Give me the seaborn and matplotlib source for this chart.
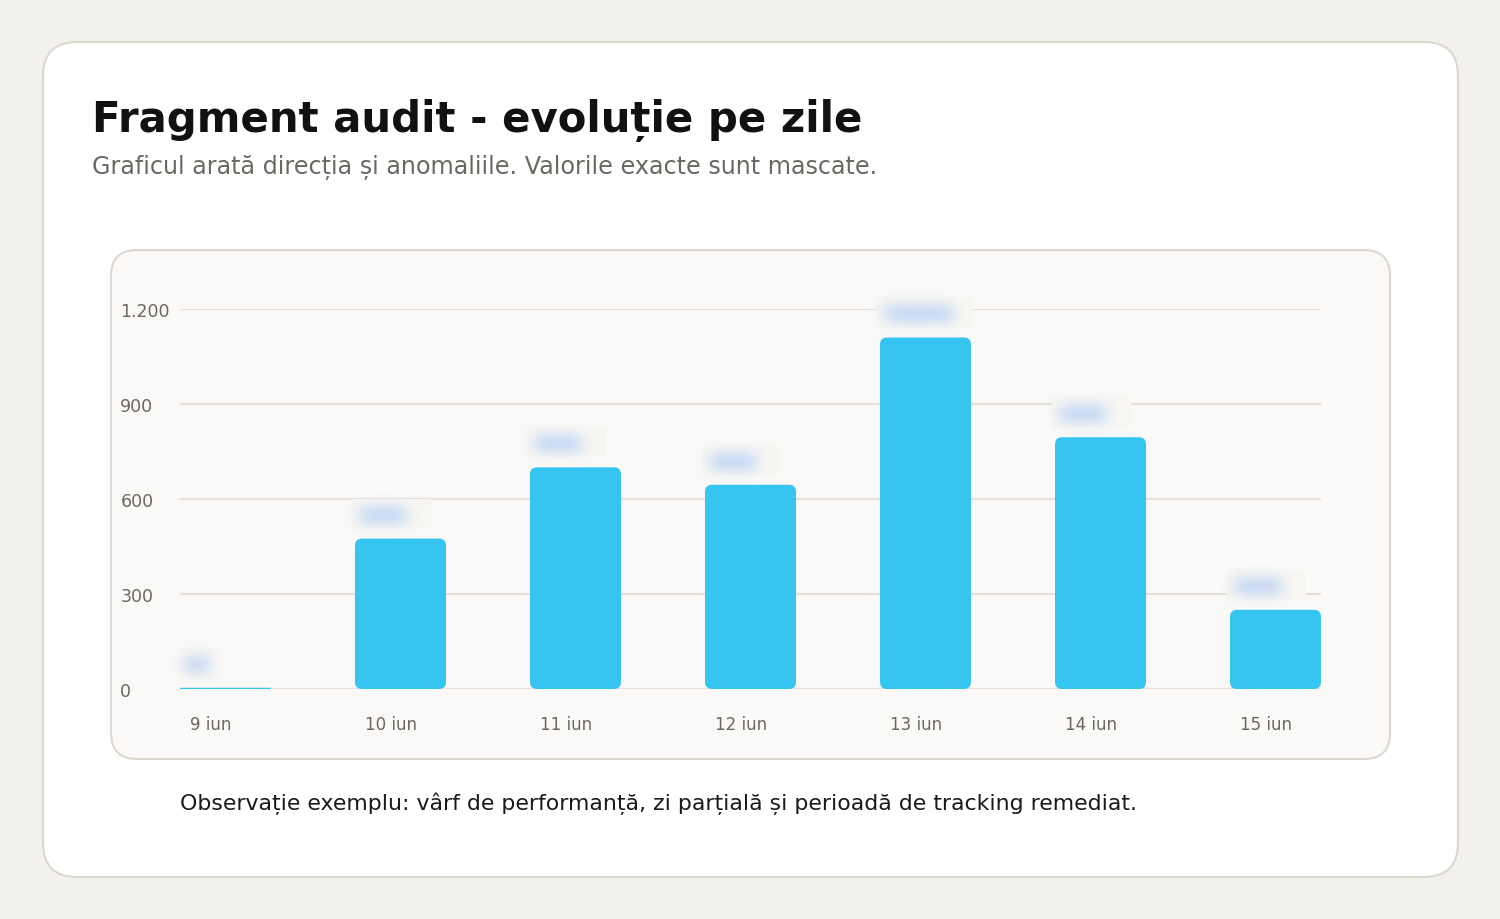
import numpy as np
import matplotlib
matplotlib.use("Agg")
import matplotlib.pyplot as plt
import matplotlib.transforms as mtransforms
from matplotlib.patches import FancyBboxPatch, Rectangle
from matplotlib.ticker import FuncFormatter
import seaborn as sns

# data
days = ["9 iun", "10 iun", "11 iun", "12 iun", "13 iun", "14 iun", "15 iun"]
values = [4, 475, 700, 645, 1110, 795, 250]
y_ticks = [0, 300, 600, 900, 1200]

title = "Fragment audit - evoluție pe zile"
subtitle = "Graficul arată direcția și anomaliile. Valorile exacte sunt mascate."
note = "Observație exemplu: vârf de performanță, zi parțială și perioadă de tracking remediat."

BAR = "#36c5f0"
PAGE = "#f2f1ed"
PANEL = "#faf9f7"
BORDER = "#dcd8d0"
GRID = "#e5e0d9"
MUTED = "#6b6862"

sns.set_theme(style="white")
plt.rcParams["font.family"] = ["DejaVu Sans"]

W, H = 1500, 920
fig = plt.figure(figsize=(15, 9.2), dpi=100, facecolor=PAGE)

# background layer in pixel coordinates (card + panel + texts)
bg = fig.add_axes([0, 0, 1, 1], zorder=-1)
bg.set_xlim(0, W)
bg.set_ylim(H, 0)
bg.axis("off")
bg.add_patch(FancyBboxPatch((43, 43), 1415, 835, boxstyle="round,pad=0,rounding_size=34",
                            fc="white", ec=BORDER, lw=1.5))
bg.add_patch(FancyBboxPatch((111, 251), 1279, 509, boxstyle="round,pad=0,rounding_size=26",
                            fc=PANEL, ec=BORDER, lw=1.5))
bg.text(92, 132, title, fontsize=30.2, fontweight="bold", color="#111111", va="baseline")
bg.text(92, 167, subtitle, fontsize=17.2, color=MUTED, va="center")
bg.text(180, 804, note, fontsize=15.8, color="#1a1a1a", va="center")

# chart axes
x0, x1, y0, y1 = 180, 1321, 690, 310
ax = fig.add_axes([x0 / W, 1 - y0 / H, (x1 - x0) / W, (y0 - y1) / H])
ax.set_facecolor("none")

bw = 0.52
sns.barplot(x=days, y=values, color=BAR, width=bw, saturation=1, ax=ax, zorder=3)
ax.set_xlim(-bw / 2, len(days) - 1 + bw / 2)
ax.set_ylim(0, 1200)

px_x = (x1 - x0) / (len(days) - 1 + bw)   # pixels per x unit
px_y = (y0 - y1) / 1200                   # pixels per y unit

# rounded bars
r = 7
for p in list(ax.patches):
    bx, by, pw, ph = p.get_x(), p.get_y(), p.get_width(), p.get_height()
    p.remove()
    rr = min(r, ph * px_y / 2)
    ax.add_patch(FancyBboxPatch((bx, by), pw, ph,
                                boxstyle=f"round,pad=0,rounding_size={rr / px_x}",
                                mutation_aspect=px_x / px_y,
                                fc=BAR, ec="none", zorder=3))

# masked value labels (blurred pills)
def soft(n, a, b, s):
    t = np.arange(n)
    return 1 / (1 + np.exp(-(t - a) / s)) - 1 / (1 + np.exp(-(t - b) / s))

for i, v in enumerate(values):
    label = f"{v:,.0f}".replace(",", ".")
    blob_w = 11 * len(label) + 12
    left = i - bw / 2
    top = v
    box_w = min(96, blob_w * 1.75)
    ax.add_patch(Rectangle((left - 3 / px_x, top + 10 / px_y), box_w / px_x, 30 / px_y,
                           fc="#f7f6f3", ec="none", zorder=4, clip_on=False))
    pad = 14
    hw, hh = int(blob_w + 2 * pad), 24 + 2 * 10
    alpha = np.outer(soft(hh, 14, hh - 14, 3.8), soft(hw, pad, hw - pad, 4.5)) * 0.8
    img = np.zeros((hh, hw, 4))
    img[..., 0], img[..., 1], img[..., 2] = 0.70, 0.80, 0.96
    img[..., 3] = alpha
    ex0 = left + (5 - pad) / px_x
    ey_c = top + 24 / px_y
    ax.imshow(img, extent=(ex0, ex0 + hw / px_x, ey_c - hh / 2 / px_y, ey_c + hh / 2 / px_y),
              aspect="auto", zorder=5, clip_on=False, interpolation="bilinear")

ax.set_xlim(-bw / 2, len(days) - 1 + bw / 2)
ax.set_ylim(0, 1200)

ax.set_yticks(y_ticks)
ax.yaxis.set_major_formatter(FuncFormatter(lambda v, _: f"{v:,.0f}".replace(",", ".")))
ax.yaxis.grid(True, color=GRID, lw=1.5, zorder=0)
ax.xaxis.grid(False)
ax.set_axisbelow(True)
ax.tick_params(axis="y", length=0, pad=43, labelsize=12.5, labelcolor=MUTED)
ax.tick_params(axis="x", length=0, pad=19, labelsize=12, labelcolor=MUTED)
for t in ax.get_yticklabels():
    t.set_ha("left")
shift = mtransforms.ScaledTranslation(-(bw / 2 * px_x - 10) / 100, 0, fig.dpi_scale_trans)
for t in ax.get_xticklabels():
    t.set_ha("left")
    t.set_transform(t.get_transform() + shift)
for s in ax.spines.values():
    s.set_visible(False)
ax.set_xlabel("")
ax.set_ylabel("")

fig.savefig("out.png", dpi=100, facecolor=PAGE)
